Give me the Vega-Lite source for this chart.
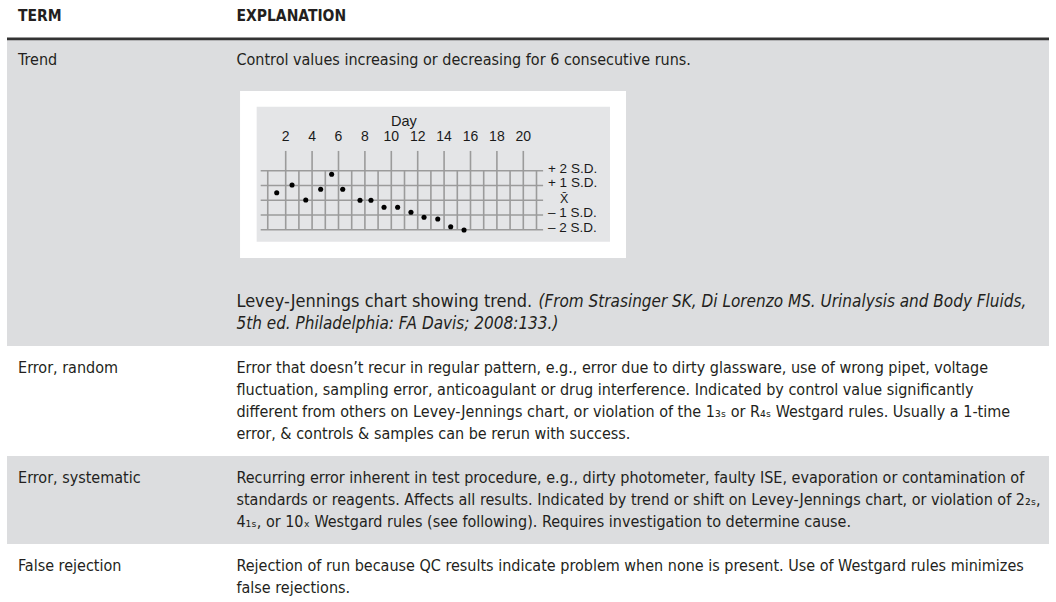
{
  "$schema": "https://vega.github.io/schema/vega-lite/v6.json",
  "width": 1056,
  "height": 602,
  "padding": 0,
  "autosize": {"type": "none"},
  "background": "#ffffff",
  "config": {"view": {"stroke": null}, "axis": {"disable": true}},
  "datasets": {
    "cells": [
      {"part": "header", "col": "term", "slot": 0, "text": "TERM"},
      {"part": "header", "col": "expl", "slot": 0, "text": "EXPLANATION"},
      {"part": "term", "row": "Trend", "slot": 2, "text": "Trend"},
      {"part": "body", "row": "Trend", "slot": 2, "text": "Control values increasing or decreasing for 6 consecutive runs."},
      {"part": "caption", "row": "Trend", "slot": 13, "text": "Levey-Jennings chart showing trend."},
      {"part": "source", "row": "Trend", "seq": 1, "slot": 13, "text": "(From Strasinger SK, Di Lorenzo MS. Urinalysis and Body Fluids,"},
      {"part": "source", "row": "Trend", "seq": 2, "slot": 14, "text": "5th ed. Philadelphia: FA Davis; 2008:133.)"},
      {"part": "term", "row": "Error, random", "slot": 16, "text": "Error, random"},
      {"part": "body", "row": "Error, random", "slot": 16, "text": "Error that doesn’t recur in regular pattern, e.g., error due to dirty glassware, use of wrong pipet, voltage"},
      {"part": "body", "row": "Error, random", "slot": 17, "text": "fluctuation, sampling error, anticoagulant or drug interference. Indicated by control value significantly"},
      {"part": "body", "row": "Error, random", "slot": 18, "text": "different from others on Levey-Jennings chart, or violation of the 1₃ₛ or R₄ₛ Westgard rules. Usually a 1-time"},
      {"part": "body", "row": "Error, random", "slot": 19, "text": "error, & controls & samples can be rerun with success."},
      {"part": "term", "row": "Error, systematic", "slot": 21, "text": "Error, systematic"},
      {"part": "body", "row": "Error, systematic", "slot": 21, "text": "Recurring error inherent in test procedure, e.g., dirty photometer, faulty ISE, evaporation or contamination of"},
      {"part": "body", "row": "Error, systematic", "slot": 22, "text": "standards or reagents. Affects all results. Indicated by trend or shift on Levey-Jennings chart, or violation of 2₂ₛ,"},
      {"part": "body", "row": "Error, systematic", "slot": 23, "text": "4₁ₛ, or 10ₓ Westgard rules (see following). Requires investigation to determine cause."},
      {"part": "term", "row": "False rejection", "slot": 25, "text": "False rejection"},
      {"part": "body", "row": "False rejection", "slot": 25, "text": "Rejection of run because QC results indicate problem when none is present. Use of Westgard rules minimizes"},
      {"part": "body", "row": "False rejection", "slot": 26, "text": "false rejections."}
    ],
    "points": [
      {"day": 1.32, "sd": 0.51}, {"day": 2.48, "sd": 1.03}, {"day": 3.52, "sd": 0.01},
      {"day": 4.65, "sd": 0.74}, {"day": 5.48, "sd": 1.76}, {"day": 6.32, "sd": 0.74},
      {"day": 7.63, "sd": 0.0}, {"day": 8.46, "sd": 0.0}, {"day": 9.45, "sd": -0.48},
      {"day": 10.48, "sd": -0.48}, {"day": 11.49, "sd": -0.82}, {"day": 12.48, "sd": -1.16},
      {"day": 13.52, "sd": -1.27}, {"day": 14.5, "sd": -1.8}, {"day": 15.51, "sd": -2.02}
    ],
    "dayLabels": [
      {"day": 2, "label": "2"}, {"day": 4, "label": "4"}, {"day": 6, "label": "6"}, {"day": 8, "label": "8"},
      {"day": 10, "label": "10"}, {"day": 12, "label": "12"}, {"day": 14, "label": "14"}, {"day": 16, "label": "16"},
      {"day": 18, "label": "18"}, {"day": 20, "label": "20"}
    ],
    "gridDays": [
      {"day": 0.64}, {"day": 2}, {"day": 3}, {"day": 4}, {"day": 5}, {"day": 6}, {"day": 7}, {"day": 8},
      {"day": 9}, {"day": 10}, {"day": 11}, {"day": 12}, {"day": 13}, {"day": 14}, {"day": 15}, {"day": 16},
      {"day": 17}, {"day": 18}, {"day": 19}, {"day": 20}, {"day": 21}
    ],
    "levels": [
      {"sd": 2, "label": "+ 2 S.D."}, {"sd": 1, "label": "+ 1 S.D."}, {"sd": 0, "label": "X̄"},
      {"sd": -1, "label": "– 1 S.D."}, {"sd": -2, "label": "– 2 S.D."}
    ],
    "titles": [{"title": "Day"}]
  },
  "layer": [
    {
      "data": {"name": "cells"},
      "layer": [
        {
          "transform": [
            {"filter": "datum.part !== 'header'"},
            {"aggregate": [{"op": "min", "field": "slot", "as": "lo"}, {"op": "max", "field": "slot", "as": "hi"}], "groupby": ["row"]},
            {"filter": "datum.row === 'Trend' || datum.row === 'Error, systematic'"},
            {"calculate": "datum.lo - 1", "as": "top"},
            {"calculate": "datum.hi + 1", "as": "bottom"}
          ],
          "mark": {"type": "rect", "fill": "#dcdddf"},
          "encoding": {
            "x": {"datum": 0, "type": "quantitative", "scale": {"domain": [0, 100], "range": [7, 1049]}, "axis": null},
            "x2": {"datum": 100},
            "y": {"field": "top", "type": "quantitative", "scale": {"domain": [0, 26], "range": [16, 588]}, "axis": null},
            "y2": {"field": "bottom"}
          }
        },
        {
          "transform": [{"filter": "datum.part === 'header' && datum.col === 'term'"}],
          "mark": {"type": "rule", "stroke": "#333333", "strokeWidth": 2.6},
          "encoding": {
            "x": {"datum": 0, "type": "quantitative", "scale": {"domain": [0, 100], "range": [7, 1049]}, "axis": null},
            "x2": {"datum": 100},
            "y": {"datum": 1.04, "type": "quantitative", "scale": {"domain": [0, 26], "range": [16, 588]}, "axis": null}
          }
        },
        {
          "transform": [{"filter": "datum.part === 'header' && datum.col === 'term'"}],
          "mark": {"type": "text", "align": "left", "baseline": "middle", "font": "DejaVu Sans Condensed", "fontWeight": "bold", "fontSize": 15.5, "fill": "#231f20"},
          "encoding": {
            "x": {"datum": 1.06, "type": "quantitative", "scale": {"domain": [0, 100], "range": [7, 1049]}, "axis": null},
            "y": {"field": "slot", "type": "quantitative", "scale": {"domain": [0, 26], "range": [16, 588]}, "axis": null},
            "text": {"field": "text"}
          }
        },
        {
          "transform": [{"filter": "datum.part === 'header' && datum.col === 'expl'"}],
          "mark": {"type": "text", "align": "left", "baseline": "middle", "font": "DejaVu Sans Condensed", "fontWeight": "bold", "fontSize": 15.5, "fill": "#231f20"},
          "encoding": {
            "x": {"datum": 22.02, "type": "quantitative", "scale": {"domain": [0, 100], "range": [7, 1049]}, "axis": null},
            "y": {"field": "slot", "type": "quantitative", "scale": {"domain": [0, 26], "range": [16, 588]}, "axis": null},
            "text": {"field": "text"}
          }
        },
        {
          "transform": [{"filter": "datum.part === 'term'"}],
          "mark": {"type": "text", "align": "left", "baseline": "middle", "font": "DejaVu Sans Condensed", "fontSize": 16, "fill": "#231f20"},
          "encoding": {
            "x": {"datum": 1.06, "type": "quantitative", "scale": {"domain": [0, 100], "range": [7, 1049]}, "axis": null},
            "y": {"field": "slot", "type": "quantitative", "scale": {"domain": [0, 26], "range": [16, 588]}, "axis": null},
            "text": {"field": "text"}
          }
        },
        {
          "transform": [{"filter": "datum.part === 'body'"}],
          "mark": {"type": "text", "align": "left", "baseline": "middle", "font": "DejaVu Sans Condensed", "fontSize": 16, "fill": "#231f20"},
          "encoding": {
            "x": {"datum": 22.02, "type": "quantitative", "scale": {"domain": [0, 100], "range": [7, 1049]}, "axis": null},
            "y": {"field": "slot", "type": "quantitative", "scale": {"domain": [0, 26], "range": [16, 588]}, "axis": null},
            "text": {"field": "text"}
          }
        },
        {
          "transform": [{"filter": "datum.part === 'caption'"}],
          "mark": {"type": "text", "align": "left", "baseline": "middle", "font": "DejaVu Sans Condensed", "fontSize": 18, "fill": "#231f20"},
          "encoding": {
            "x": {"datum": 22.02, "type": "quantitative", "scale": {"domain": [0, 100], "range": [7, 1049]}, "axis": null},
            "y": {"field": "slot", "type": "quantitative", "scale": {"domain": [0, 26], "range": [16, 588]}, "axis": null},
            "text": {"field": "text"}
          }
        },
        {
          "transform": [{"filter": "datum.part === 'source' && datum.seq === 1"}],
          "mark": {"type": "text", "align": "left", "baseline": "middle", "font": "DejaVu Sans Condensed", "fontStyle": "italic", "fontSize": 17, "fill": "#231f20"},
          "encoding": {
            "x": {"datum": 51.0, "type": "quantitative", "scale": {"domain": [0, 100], "range": [7, 1049]}, "axis": null},
            "y": {"field": "slot", "type": "quantitative", "scale": {"domain": [0, 26], "range": [16, 588]}, "axis": null},
            "text": {"field": "text"}
          }
        },
        {
          "transform": [{"filter": "datum.part === 'source' && datum.seq === 2"}],
          "mark": {"type": "text", "align": "left", "baseline": "middle", "font": "DejaVu Sans Condensed", "fontStyle": "italic", "fontSize": 17, "fill": "#231f20"},
          "encoding": {
            "x": {"datum": 22.02, "type": "quantitative", "scale": {"domain": [0, 100], "range": [7, 1049]}, "axis": null},
            "y": {"field": "slot", "type": "quantitative", "scale": {"domain": [0, 26], "range": [16, 588]}, "axis": null},
            "text": {"field": "text"}
          }
        }
      ]
    },
    {
      "layer": [
        {
          "data": {"name": "titles"},
          "mark": {"type": "rect", "fill": "#ffffff"},
          "encoding": {
            "x": {"datum": -1.46, "type": "quantitative", "scale": {"domain": [0, 21], "range": [259.3, 536.5]}, "axis": null},
            "x2": {"datum": 27.78},
            "y": {"datum": 7.4, "type": "quantitative", "scale": {"domain": [-2, 2], "range": [229.7, 170.7]}, "axis": null},
            "y2": {"datum": -3.92}
          }
        },
        {
          "data": {"name": "titles"},
          "mark": {"type": "rect", "fill": "#e4e5e7"},
          "encoding": {
            "x": {"datum": -0.2, "type": "quantitative", "scale": {"domain": [0, 21], "range": [259.3, 536.5]}, "axis": null},
            "x2": {"datum": 26.57},
            "y": {"datum": 6.34, "type": "quantitative", "scale": {"domain": [-2, 2], "range": [229.7, 170.7]}, "axis": null},
            "y2": {"datum": -2.81}
          }
        },
        {
          "data": {"name": "levels"},
          "mark": {"type": "rule", "stroke": "#9b9b9b", "strokeWidth": 1.6},
          "encoding": {
            "x": {"datum": 0.106, "type": "quantitative", "scale": {"domain": [0, 21], "range": [259.3, 536.5]}, "axis": null},
            "x2": {"datum": 21.5},
            "y": {"field": "sd", "type": "quantitative", "scale": {"domain": [-2, 2], "range": [229.7, 170.7]}, "axis": null}
          }
        },
        {
          "data": {"name": "gridDays"},
          "mark": {"type": "rule", "stroke": "#9b9b9b", "strokeWidth": 1.6},
          "encoding": {
            "x": {"field": "day", "type": "quantitative", "scale": {"domain": [0, 21], "range": [259.3, 536.5]}, "axis": null},
            "y": {"datum": -2, "type": "quantitative", "scale": {"domain": [-2, 2], "range": [229.7, 170.7]}, "axis": null},
            "y2": {"datum": 2}
          }
        },
        {
          "data": {"name": "dayLabels"},
          "mark": {"type": "rule", "stroke": "#9b9b9b", "strokeWidth": 1.6},
          "encoding": {
            "x": {"field": "day", "type": "quantitative", "scale": {"domain": [0, 21], "range": [259.3, 536.5]}, "axis": null},
            "y": {"datum": 2, "type": "quantitative", "scale": {"domain": [-2, 2], "range": [229.7, 170.7]}, "axis": null},
            "y2": {"datum": 3.34}
          }
        },
        {
          "data": {"name": "dayLabels"},
          "mark": {"type": "text", "align": "center", "baseline": "middle", "font": "Liberation Sans", "fontSize": 14, "fill": "#1a1a1a"},
          "encoding": {
            "x": {"field": "day", "type": "quantitative", "scale": {"domain": [0, 21], "range": [259.3, 536.5]}, "axis": null},
            "y": {"datum": 4.29, "type": "quantitative", "scale": {"domain": [-2, 2], "range": [229.7, 170.7]}, "axis": null},
            "text": {"field": "label"}
          }
        },
        {
          "data": {"name": "titles"},
          "mark": {"type": "text", "align": "center", "baseline": "middle", "font": "Liberation Sans", "fontSize": 14.5, "fill": "#1a1a1a"},
          "encoding": {
            "x": {"datum": 10.96, "type": "quantitative", "scale": {"domain": [0, 21], "range": [259.3, 536.5]}, "axis": null},
            "y": {"datum": 5.33, "type": "quantitative", "scale": {"domain": [-2, 2], "range": [229.7, 170.7]}, "axis": null},
            "text": {"field": "title"}
          }
        },
        {
          "data": {"name": "levels"},
          "transform": [{"filter": "datum.sd !== 0"}],
          "mark": {"type": "text", "align": "left", "baseline": "middle", "dy": -2, "font": "Liberation Sans", "fontSize": 13.5, "fill": "#1a1a1a"},
          "encoding": {
            "x": {"datum": 21.87, "type": "quantitative", "scale": {"domain": [0, 21], "range": [259.3, 536.5]}, "axis": null},
            "y": {"field": "sd", "type": "quantitative", "scale": {"domain": [-2, 2], "range": [229.7, 170.7]}, "axis": null},
            "text": {"field": "label"}
          }
        },
        {
          "data": {"name": "levels"},
          "transform": [{"filter": "datum.sd === 0"}],
          "mark": {"type": "text", "align": "left", "baseline": "middle", "dy": -1, "font": "Liberation Sans", "fontSize": 12.5, "fill": "#1a1a1a"},
          "encoding": {
            "x": {"datum": 22.78, "type": "quantitative", "scale": {"domain": [0, 21], "range": [259.3, 536.5]}, "axis": null},
            "y": {"field": "sd", "type": "quantitative", "scale": {"domain": [-2, 2], "range": [229.7, 170.7]}, "axis": null},
            "text": {"field": "label"}
          }
        },
        {
          "data": {"name": "points"},
          "mark": {"type": "point", "filled": true, "fill": "#000000", "opacity": 1, "size": 26, "strokeWidth": 0},
          "encoding": {
            "x": {"field": "day", "type": "quantitative", "scale": {"domain": [0, 21], "range": [259.3, 536.5]}, "axis": null},
            "y": {"field": "sd", "type": "quantitative", "scale": {"domain": [-2, 2], "range": [229.7, 170.7]}, "axis": null}
          }
        }
      ]
    }
  ],
  "resolve": {"scale": {"x": "independent", "y": "independent"}}
}
